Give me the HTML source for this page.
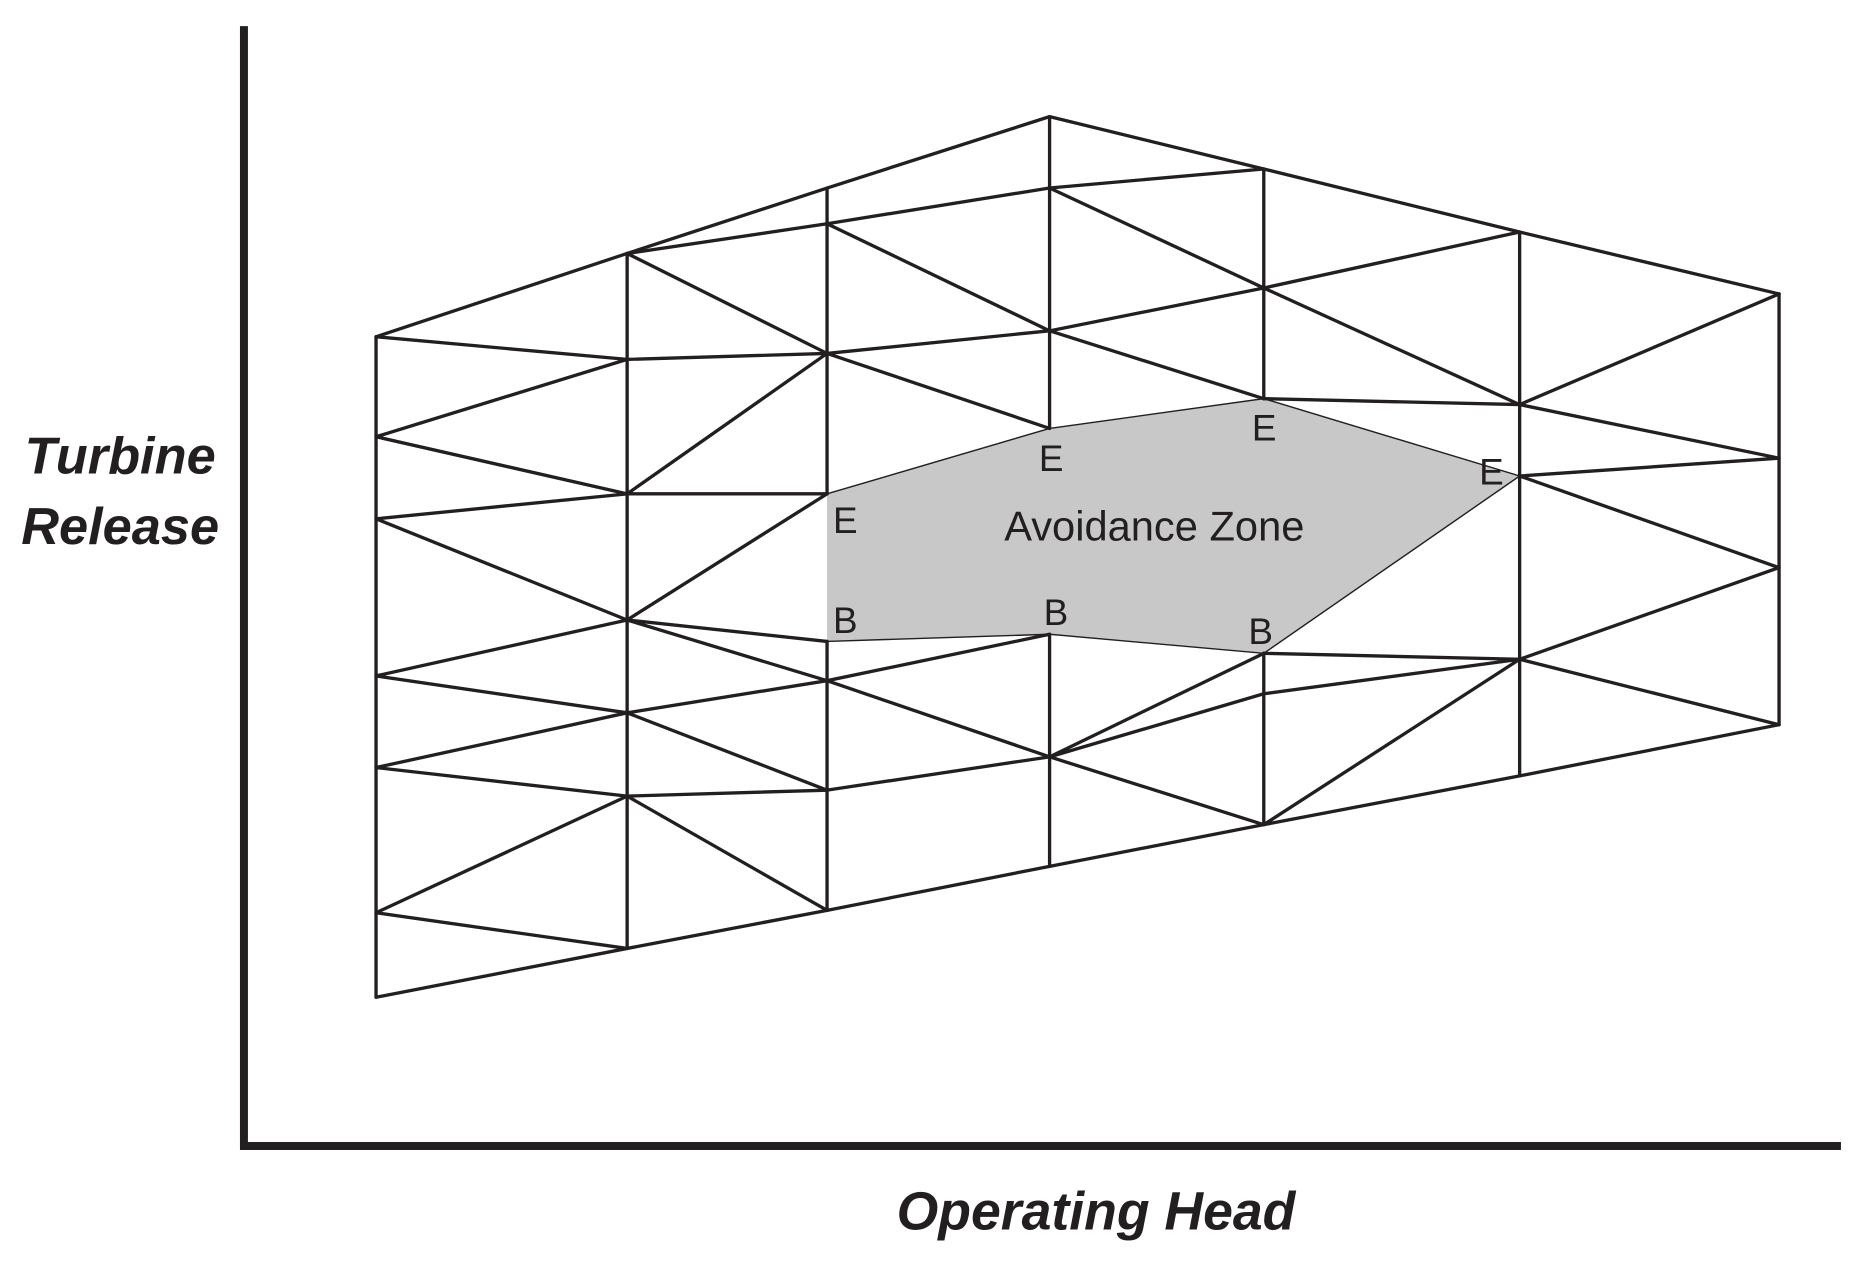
<!DOCTYPE html>
<html><head><meta charset="utf-8"><style>html,body{margin:0;padding:0;background:#fff}svg{display:block}</style></head>
<body>
<svg width="1867" height="1267" viewBox="0 0 1568.9 1064.7" xmlns="http://www.w3.org/2000/svg">
<polygon points="695,415 882,360 1062,335 1277,400 1062,549 882,533 695,539" fill="#c8c8c8"/>
<g stroke="#231f20" stroke-width="2.8" fill="none" stroke-linecap="round" stroke-linejoin="round">
<polyline points="316,283 527,213 695,158 882,98 1062,142 1277,195 1495,247"/>
<polyline points="316,838 527,797 695,765 882,728 1062,693 1277,652 1495,609"/>
<line x1="316" y1="283" x2="316" y2="838"/>
<line x1="527" y1="213" x2="527" y2="797"/>
<line x1="695" y1="158" x2="695" y2="415"/>
<line x1="695" y1="539" x2="695" y2="765"/>
<line x1="882" y1="98" x2="882" y2="360"/>
<line x1="882" y1="533" x2="882" y2="728"/>
<line x1="1062" y1="142" x2="1062" y2="335"/>
<line x1="1062" y1="549" x2="1062" y2="693"/>
<line x1="1277" y1="195" x2="1277" y2="652"/>
<line x1="1495" y1="247" x2="1495" y2="609"/>
<path d="M316,283L527,302M316,367L527,302M316,367L527,415M316,436L527,415M316,436L527,521M316,568L527,521M316,568L527,599M316,645L527,599M316,645L527,669M316,767L527,669M316,767L527,797"/>
<path d="M527,213L695,188M527,213L695,297M527,302L695,297M527,415L695,297M527,415L695,415M527,521L695,415M527,521L695,539M527,521L695,572M527,599L695,572M527,599L695,664M527,669L695,664M527,669L695,765"/>
<path d="M695,188L882,158M695,188L882,278M695,297L882,278M695,297L882,360M695,572L882,533M695,572L882,636M695,664L882,636"/>
<path d="M882,158L1062,142M882,158L1062,242M882,278L1062,242M882,278L1062,335M882,636L1062,549M882,636L1062,583M882,636L1062,693"/>
<path d="M1062,242L1277,195M1062,242L1277,340M1062,335L1277,340M1062,549L1277,554M1062,583L1277,554M1062,693L1277,554"/>
<path d="M1277,340L1495,247M1277,340L1495,385M1277,400L1495,385M1277,400L1495,477M1277,554L1495,477M1277,554L1495,609"/>
</g>
<g stroke="#231f20" stroke-width="1.2" fill="none">
<path d="M695,415L882,360L1062,335L1277,400L1062,549L882,533L695,539"/>
</g>
<g stroke="#231f20" stroke-width="6.7" fill="none">
<polyline points="205,22 205,963 1547,963"/>
</g>
<g font-family="Liberation Sans, sans-serif" font-size="31" fill="#231f20">
<text x="700" y="448">E</text>
<text x="873" y="396">E</text>
<text x="1052" y="370">E</text>
<text x="1243" y="407">E</text>
<text x="700" y="532">B</text>
<text x="877" y="525">B</text>
<text x="1049" y="541">B</text>
<text x="970" y="454" text-anchor="middle" font-size="35">Avoidance Zone</text>
</g>
<g font-family="Liberation Sans, sans-serif" font-size="44" font-weight="bold" font-style="italic" fill="#231f20">
<text x="101" y="398" text-anchor="middle">Turbine</text>
<text x="101" y="457" text-anchor="middle">Release</text>
<text x="921" y="1033" text-anchor="middle" font-size="45">Operating Head</text>
</g>
</svg>
</body></html>
